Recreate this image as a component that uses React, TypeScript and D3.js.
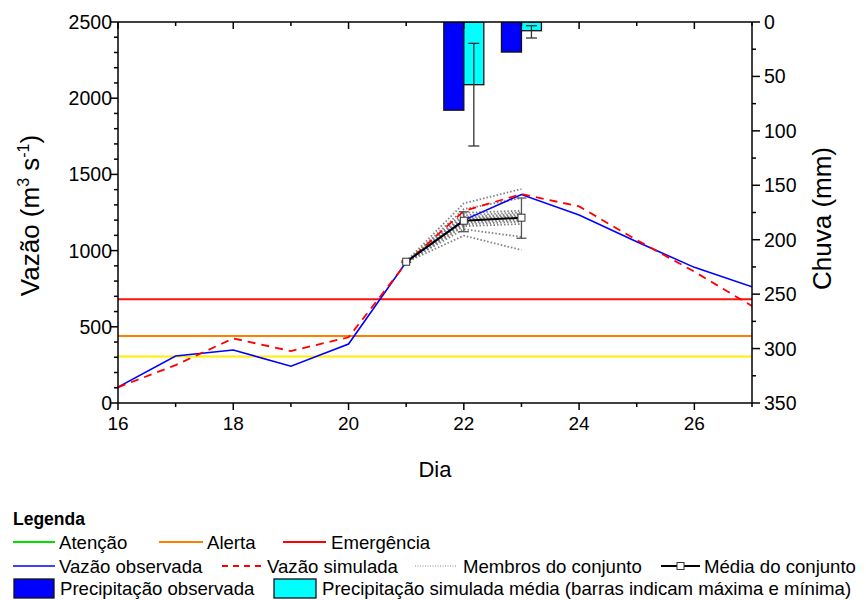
import React from "react";
import * as d3 from "d3";

// Days on the horizontal axis
const days = [16, 17, 18, 19, 20, 21, 22, 23, 24, 25, 26, 27];
// Observed and simulated discharge (m³/s)
const flowObserved = [104, 308, 348, 241, 387, 925, 1200, 1368, 1234, 1058, 890, 763];
const flowSimulated = [103, 249, 424, 341, 431, 918, 1260, 1371, 1290, 1069, 862, 636];

// Warning thresholds (m³/s)
const thresholdAttention = 305;
const thresholdAlert = 440;
const thresholdEmergency = 680;

// Ensemble forecast
const ensembleDays = [21, 22, 23];
const ensembleMembers = [
  [930, 1310, 1404],
  [925, 1272, 1345],
  [928, 1248, 1262],
  [922, 1232, 1250],
  [926, 1220, 1240],
  [924, 1212, 1232],
  [929, 1205, 1225],
  [921, 1198, 1218],
  [927, 1190, 1210],
  [923, 1182, 1200],
  [925, 1172, 1190],
  [920, 1160, 1175],
  [926, 1140, 1090],
  [924, 1098, 1004],
];
const ensembleMean = [927, 1196, 1216];
const ensembleLow = [922, 1124, 1081];
const ensembleHigh = [932, 1255, 1345];

// Rainfall (mm)
const rainDays = [22, 23];
const rainObserved = [81, 27.6];
const rainSimMean = [57.6, 8];
const rainSimMin = [19.6, 3.4];
const rainSimMax = [113.9, 14.7];

// Axis ticks
const xMajorTicks = [16, 18, 20, 22, 24, 26];
const xMinorTicks = [17, 19, 21, 23, 25, 27];
const flowMajorTicks = [0, 500, 1000, 1500, 2000, 2500];
const rainMajorTicks = [0, 50, 100, 150, 200, 250, 300, 350];

const W = 866;
const H = 600;
const left = 118;
const right = 752;
const top = 22;
const bottom = 403;
const FONT = "'Liberation Sans', Arial, sans-serif";

export default function App() {
  const x = d3.scaleLinear().domain([16, 27]).range([left, right]);
  const yFlow = d3.scaleLinear().domain([0, 2500]).range([bottom, top]);
  const yRain = d3.scaleLinear().domain([0, 350]).range([top, bottom]);

  const barW = 0.347; // bar width in days

  const line = d3
    .line<[number, number]>()
    .x((d) => x(d[0]))
    .y((d) => yFlow(d[1]));

  const obsPath = line(days.map((d, i) => [d, flowObserved[i]]));
  const simPath = line(days.map((d, i) => [d, flowSimulated[i]]));
  const meanPath = line(ensembleDays.map((d, i) => [d, ensembleMean[i]]));

  const flowMinor = d3.range(0, 2501, 100).filter((v) => v % 500 !== 0);
  const rainMinor = d3.range(25, 350, 50);

  const thresholds = [
    { v: thresholdAttention, c: "#ffee00" },
    { v: thresholdAlert, c: "#ff8000" },
    { v: thresholdEmergency, c: "#ff1010" },
  ];

  const tickStroke = { stroke: "#000", strokeWidth: 1.5 };

  return (
    <svg
      width={W}
      height={H}
      viewBox={`0 0 ${W} ${H}`}
      style={{ position: "absolute", left: 0, top: 0, background: "#fff" }}
      fontFamily={FONT}
    >
      <defs>
        <clipPath id="plot">
          <rect x={left} y={top} width={right - left} height={bottom - top} />
        </clipPath>
      </defs>

      <g clipPath="url(#plot)">
        {/* threshold lines */}
        {thresholds.map((t, i) => (
          <line
            key={i}
            x1={left}
            x2={right}
            y1={yFlow(t.v)}
            y2={yFlow(t.v)}
            stroke={t.c}
            strokeWidth={2}
          />
        ))}

        {/* ensemble members */}
        {ensembleMembers.map((m, i) => (
          <path
            key={i}
            d={line(ensembleDays.map((d, j) => [d, m[j]])) || ""}
            fill="none"
            stroke="#808080"
            strokeWidth={1.8}
            strokeDasharray="1.5,2"
          />
        ))}

        <path d={obsPath || ""} fill="none" stroke="#0000ff" strokeWidth={1.6} />
        <path
          d={simPath || ""}
          fill="none"
          stroke="#ff0000"
          strokeWidth={1.8}
          strokeDasharray="8,6"
        />

        {/* ensemble mean with spread */}
        {ensembleDays.map((d, i) => (
          <g key={i} stroke="#555" strokeWidth={1.3}>
            <line x1={x(d)} x2={x(d)} y1={yFlow(ensembleLow[i])} y2={yFlow(ensembleHigh[i])} />
            <line x1={x(d) - 5} x2={x(d) + 5} y1={yFlow(ensembleLow[i])} y2={yFlow(ensembleLow[i])} />
            <line x1={x(d) - 5} x2={x(d) + 5} y1={yFlow(ensembleHigh[i])} y2={yFlow(ensembleHigh[i])} />
          </g>
        ))}
        <path d={meanPath || ""} fill="none" stroke="#000" strokeWidth={2} />
        {ensembleDays.map((d, i) => (
          <rect
            key={i}
            x={x(d) - 3.5}
            y={yFlow(ensembleMean[i]) - 3.5}
            width={7}
            height={7}
            fill="#fff"
            stroke="#333"
            strokeWidth={1}
          />
        ))}

        {/* rainfall bars hanging from the top axis */}
        {rainDays.map((d, i) => (
          <g key={i}>
            <rect
              x={x(d - barW)}
              y={yRain(0)}
              width={x(d) - x(d - barW)}
              height={yRain(rainObserved[i]) - yRain(0)}
              fill="#0000ff"
              stroke="#111"
              strokeWidth={1.3}
            />
            <rect
              x={x(d)}
              y={yRain(0)}
              width={x(d + barW) - x(d)}
              height={yRain(rainSimMean[i]) - yRain(0)}
              fill="#00ffff"
              stroke="#111"
              strokeWidth={1.3}
            />
            <g stroke="#333" strokeWidth={1.3}>
              <line
                x1={x(d + barW / 2)}
                x2={x(d + barW / 2)}
                y1={yRain(rainSimMin[i])}
                y2={yRain(rainSimMax[i])}
              />
              <line
                x1={x(d + barW / 2) - 5.5}
                x2={x(d + barW / 2) + 5.5}
                y1={yRain(rainSimMin[i])}
                y2={yRain(rainSimMin[i])}
              />
              <line
                x1={x(d + barW / 2) - 5.5}
                x2={x(d + barW / 2) + 5.5}
                y1={yRain(rainSimMax[i])}
                y2={yRain(rainSimMax[i])}
              />
            </g>
          </g>
        ))}
      </g>

      {/* frame */}
      <line x1={left} x2={right} y1={top} y2={top} {...tickStroke} />
      <line x1={left} x2={right} y1={bottom} y2={bottom} {...tickStroke} />
      <line x1={left} x2={left} y1={top} y2={bottom} {...tickStroke} />
      <line x1={right} x2={right} y1={top} y2={bottom} {...tickStroke} />

      {/* bottom and top ticks */}
      {xMajorTicks.map((t) => (
        <g key={"xM" + t}>
          <line x1={x(t)} x2={x(t)} y1={bottom} y2={bottom + 7} {...tickStroke} />
          <line x1={x(t)} x2={x(t)} y1={top} y2={top + 7} {...tickStroke} />
          <text x={x(t)} y={bottom + 27} textAnchor="middle" fontSize={19}>
            {t}
          </text>
        </g>
      ))}
      {xMinorTicks.map((t) => (
        <g key={"xm" + t}>
          <line x1={x(t)} x2={x(t)} y1={bottom} y2={bottom + 4} {...tickStroke} />
          <line x1={x(t)} x2={x(t)} y1={top} y2={top + 4} {...tickStroke} />
        </g>
      ))}
      <text x={(left + right) / 2} y={477} textAnchor="middle" fontSize={22}>
        Dia
      </text>

      {/* left axis: discharge */}
      {flowMajorTicks.map((t) => (
        <g key={"yM" + t}>
          <line x1={left - 8} x2={left} y1={yFlow(t)} y2={yFlow(t)} {...tickStroke} />
          <text x={left - 6} y={yFlow(t) + 7} textAnchor="end" fontSize={19.5}>
            {t}
          </text>
        </g>
      ))}
      {flowMinor.map((t) => (
        <line key={"ym" + t} x1={left - 4} x2={left} y1={yFlow(t)} y2={yFlow(t)} {...tickStroke} />
      ))}
      <text
        transform={`translate(39, ${(top + bottom) / 2 + 3}) rotate(-90)`}
        textAnchor="middle"
        fontSize={26}
      >
        Vazão (m
        <tspan fontSize={16} dy={-10}>
          3
        </tspan>
        <tspan dy={10}> s</tspan>
        <tspan fontSize={16} dy={-10}>
          -1
        </tspan>
        <tspan dy={10}>)</tspan>
      </text>

      {/* right axis: rainfall */}
      {rainMajorTicks.map((t) => (
        <g key={"rM" + t}>
          <line x1={right} x2={right + 8} y1={yRain(t)} y2={yRain(t)} {...tickStroke} />
          <text x={right + 12} y={yRain(t) + 7} textAnchor="start" fontSize={19.5}>
            {t}
          </text>
        </g>
      ))}
      {rainMinor.map((t) => (
        <line key={"rm" + t} x1={right} x2={right + 4} y1={yRain(t)} y2={yRain(t)} {...tickStroke} />
      ))}
      <text
        transform={`translate(831, ${(top + bottom) / 2 + 6}) rotate(-90)`}
        textAnchor="middle"
        fontSize={26}
      >
        Chuva (mm)
      </text>

      {/* legend */}
      <g fontSize={18.6}>
        <text x={13} y={525} fontWeight="bold" fontSize={17.5}>
          Legenda
        </text>

        <line x1={13} x2={55} y1={542} y2={542} stroke="#00e000" strokeWidth={2} />
        <text x={59} y={548.5}>Atenção</text>
        <line x1={159} x2={203} y1={542} y2={542} stroke="#ff8000" strokeWidth={2} />
        <text x={207} y={548.5}>Alerta</text>
        <line x1={283} x2={326} y1={542} y2={542} stroke="#ff0000" strokeWidth={2} />
        <text x={331} y={548.5}>Emergência</text>

        <line x1={13} x2={55} y1={566} y2={566} stroke="#0000ff" strokeWidth={1.6} />
        <text x={59} y={572.5}>Vazão observada</text>
        <line
          x1={222}
          x2={265}
          y1={566}
          y2={566}
          stroke="#ff0000"
          strokeWidth={1.8}
          strokeDasharray="6,5"
        />
        <text x={267} y={572.5}>Vazão simulada</text>
        <line
          x1={415}
          x2={457}
          y1={566}
          y2={566}
          stroke="#888"
          strokeWidth={1.2}
          strokeDasharray="1,1.5"
        />
        <text x={463} y={572.5}>Membros do conjunto</text>
        <line x1={661} x2={700} y1={566} y2={566} stroke="#000" strokeWidth={2} />
        <rect x={677} y={562.5} width={7} height={7} fill="#fff" stroke="#333" strokeWidth={1} />
        <text x={704} y={572.5}>Média do conjunto</text>

        <rect x={14} y={579} width={40} height={19} fill="#0000ff" stroke="#111" strokeWidth={1.3} />
        <text x={60} y={595}>Precipitação observada</text>
        <rect x={274} y={579} width={42} height={19} fill="#00ffff" stroke="#111" strokeWidth={1.3} />
        <text x={322} y={595}>Precipitação simulada média (barras indicam máxima e mínima)</text>
      </g>
    </svg>
  );
}
